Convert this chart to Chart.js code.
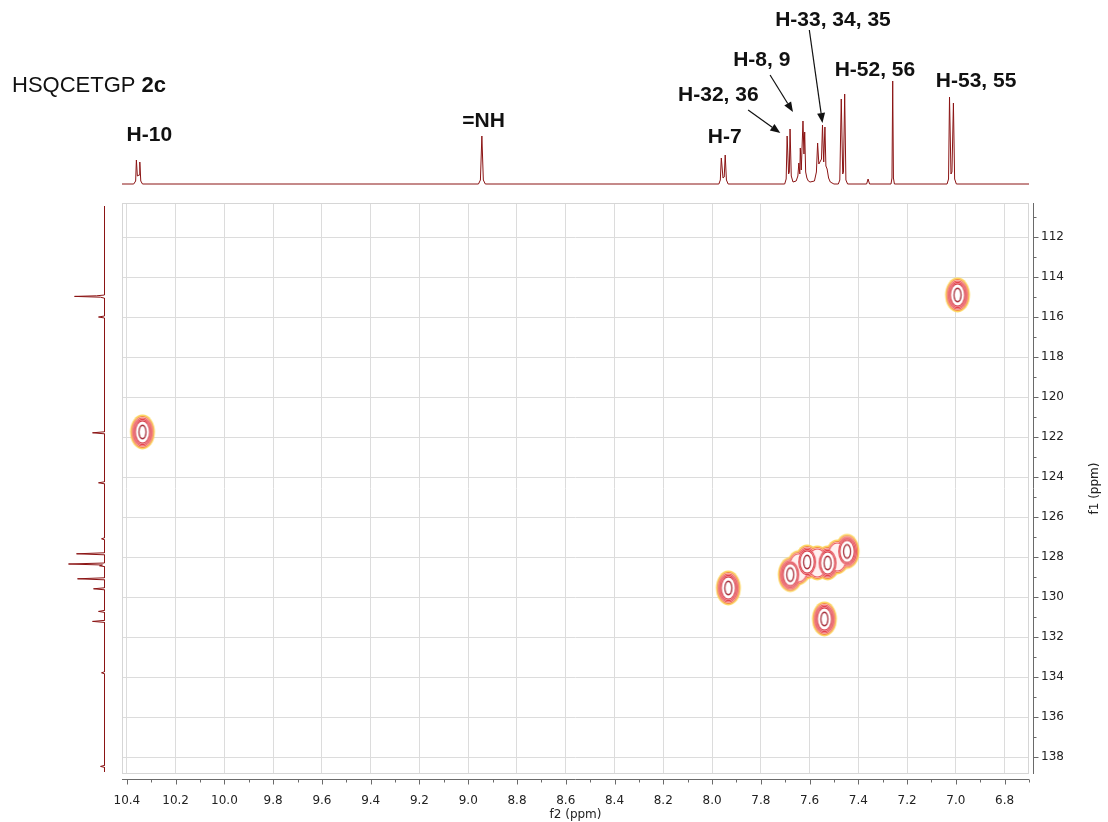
<!DOCTYPE html>
<html>

<head>
    <title>HSQCETGP 2c</title>
    <script src="https://cdn.jsdelivr.net/npm/chart.js"></script>
    <style>
        body { margin: 0; background: #fff; }
        #wrap { position: relative; width: 1108px; height: 822px; }
        #wrap canvas { position: absolute; left: 0; top: 0; }
    </style>
</head>

<body>
    <div id="wrap">
        <canvas id="main" width="1108" height="822"></canvas>
        <canvas id="top" width="1108" height="822"></canvas>
        <canvas id="side" width="1108" height="822"></canvas>
    </div>
    <script>
        // axis ticks
        var f2Ticks = [10.4, 10.2, 10.0, 9.8, 9.6, 9.4, 9.2, 9.0, 8.8, 8.6, 8.4, 8.2, 8.0, 7.8, 7.6, 7.4, 7.2, 7.0, 6.8];
        var f1Ticks = [112, 114, 116, 118, 120, 122, 124, 126, 128, 130, 132, 134, 136, 138];

        // 1H trace on top (ppm, intensity)
        var topPpm = [10.42, 10.372, 10.364, 10.361, 10.357, 10.350, 10.347, 10.343, 10.336,
            8.958, 8.950, 8.944, 8.938, 8.930,
            7.972, 7.966, 7.962, 7.955, 7.950, 7.946, 7.941, 7.934,
            7.702, 7.696, 7.692, 7.686, 7.683, 7.680, 7.675, 7.668,
            7.655, 7.648, 7.644, 7.640, 7.638, 7.634, 7.627, 7.623, 7.620, 7.616, 7.611, 7.605, 7.598,
            7.580, 7.572, 7.567, 7.562, 7.551, 7.547, 7.542, 7.537, 7.533, 7.528, 7.522, 7.515, 7.500,
            7.482, 7.476, 7.470, 7.464, 7.461, 7.456, 7.451, 7.444,
            7.366, 7.360, 7.354,
            7.266, 7.262, 7.259, 7.256, 7.252,
            7.036, 7.030, 7.026, 7.020, 7.016, 7.010, 7.005, 6.998,
            6.70];
        var topInt = [0, 0, 3, 24, 8, 9, 22, 3, 0,
            0, 4, 48, 4, 0,
            0, 4, 26, 6, 7, 29, 4, 0,
            0, 5, 48, 10, 12, 55, 8, 2,
            3, 8, 21, 10, 36, 14, 63, 30, 52, 12, 6, 3, 2,
            3, 12, 41, 20, 25, 59, 22, 57, 18, 15, 6, 2, 0,
            0, 4, 85, 10, 12, 90, 4, 0,
            0, 5, 0,
            0, 6, 103, 6, 0,
            0, 5, 87, 10, 12, 81, 5, 0,
            0];

        // 13C trace on the left (ppm, intensity)
        var sideF1 = [110.45, 114.90, 114.94, 114.97, 115.01, 115.06,
            115.95, 116.00, 116.05,
            121.74, 121.79, 121.84,
            124.24, 124.29, 124.34,
            127.04, 127.09, 127.14,
            127.79, 127.84, 127.89,
            128.30, 128.35, 128.40, 128.44, 128.48,
            129.04, 129.09, 129.14,
            129.54, 129.59, 129.64,
            130.67, 130.72, 130.77,
            131.17, 131.22, 131.27,
            133.74, 133.79, 133.84,
            138.42, 138.47, 138.52, 138.75];
        var sideInt = [0, 0, 8, 30, 4, 0,
            0, 6, 0,
            0, 12, 0,
            0, 6, 0,
            0, 3, 0,
            0, 28, 0,
            0, 36, 2, 5, 0,
            0, 27, 0,
            0, 11, 0,
            0, 6, 0,
            0, 12, 0,
            0, 3, 0,
            0, 4, 0, 0];

        // cross peaks and contour ridge points (f2, f1, number of contour levels reached)
        var crossF2 = [10.336, 6.993, 7.933, 7.679, 7.645, 7.610, 7.568, 7.526, 7.486, 7.446, 7.539];
        var crossF1 = [121.75, 114.90, 129.55, 128.88, 128.54, 128.25, 128.30, 128.30, 128.00, 127.72, 131.10];
        var crossLevels = [6, 6, 6, 6, 3, 6, 3, 6, 3, 6, 6];

        // peak labels on the 1H trace
        var labelText = ['H-10', '=NH', 'H-7', 'H-32, 36', 'H-8, 9', 'H-33, 34, 35', 'H-52, 56', 'H-53, 55'];
        var labelPpm = [10.308, 8.937, 7.948, 7.974, 7.796, 7.504, 7.332, 6.917];
        var labelInt = [49, 63, 46.5, 88.5, 124, 163.5, 113.5, 102.5];

        // arrows: [ppm, int] start -> end
        var arrowFrom = [[7.852, 74], [7.762, 109], [7.601, 154]];
        var arrowTo = [[7.720, 51], [7.668, 72], [7.547, 61]];

        var traceColor = '#8b1414';
        var tickFont = { family: 'DejaVu Sans', size: 12 };

        function ellipse(rx, ry, color) {
            var c = document.createElement('canvas');
            c.width = Math.ceil(rx) * 2 + 2;
            c.height = Math.ceil(ry) * 2 + 2;
            var g = c.getContext('2d');
            g.fillStyle = color;
            g.beginPath();
            g.ellipse(c.width / 2, c.height / 2, rx, ry, 0, 0, Math.PI * 2);
            g.fill();
            return c;
        }

        // contour rings, outer to inner: rx, ry, line colour, ring width, inside colour
        var levels = [
            [12.4, 17.4, '#fcd660', 1.5, '#fdeee0'],
            [11.2, 16.0, '#f38a40', 1.1, '#fff0f0'],
            [10.0, 14.6, '#ec4d53', 1.1, '#fff0f0'],
            [8.9, 13.2, '#e5434c', 1.1, '#fff3f3'],
            [7.8, 11.8, '#d83c47', 1.2, '#ffffff'],
            [4.2, 7.4, '#a8323d', 1.3, '#ffffff']
        ];

        var contourSets = [];
        levels.forEach(function (lv, i) {
            var pts = [];
            crossF2.forEach(function (v, j) {
                if (crossLevels[j] > i) pts.push({ x: v, y: crossF1[j] });
            });
            contourSets.push({ data: pts, pointStyle: ellipse(lv[0], lv[1], lv[2]), pointRadius: 3, order: 100 - 2 * i });
            contourSets.push({ data: pts, pointStyle: ellipse(lv[0] - lv[3], lv[1] - lv[3], lv[4]), pointRadius: 3, order: 99 - 2 * i });
        });

        var axisDeco = {
            id: 'axisDeco',
            afterDraw: function (chart) {
                var ctx = chart.ctx, a = chart.chartArea, x = chart.scales.x, y = chart.scales.y;
                ctx.save();
                ctx.strokeStyle = '#d6d6d6';
                ctx.lineWidth = 1;
                ctx.strokeRect(a.left + 0.5, a.top + 0.5, a.right - a.left - 1, a.bottom - a.top - 1);
                ctx.strokeStyle = '#6a6a6a';
                var ax = Math.round(a.right) + 4.5, ay = Math.round(a.bottom) + 5.5;
                ctx.beginPath();
                ctx.moveTo(ax, a.top); ctx.lineTo(ax, a.bottom);
                ctx.moveTo(a.left, ay); ctx.lineTo(a.right, ay);
                for (var v = 111; v <= 138; v++) {
                    var py = Math.round(y.getPixelForValue(v)) + 0.5;
                    ctx.moveTo(ax, py); ctx.lineTo(ax + (v % 2 ? 3 : 5), py);
                }
                for (var k = 67; k <= 104; k++) {
                    var px = Math.round(x.getPixelForValue(k / 10)) + 0.5;
                    ctx.moveTo(px, ay); ctx.lineTo(px, ay + (k % 2 ? 3 : 5));
                }
                ctx.stroke();
                ctx.fillStyle = '#222';
                ctx.font = '12px "DejaVu Sans"';
                ctx.translate(1095, (a.top + a.bottom) / 2);
                ctx.rotate(-Math.PI / 2);
                ctx.textAlign = 'center';
                ctx.textBaseline = 'middle';
                ctx.fillText('f1 (ppm)', 0, 0);
                ctx.restore();
            }
        };

        new Chart(document.getElementById('main'), {
            type: 'scatter',
            data: { datasets: contourSets },
            options: {
                responsive: false,
                animation: false,
                layout: { padding: { left: 122, top: 203, right: 0, bottom: 0 } },
                plugins: { legend: { display: false }, tooltip: { enabled: false } },
                scales: {
                    x: {
                        position: 'bottom',
                        min: 6.70,
                        max: 10.42,
                        reverse: true,
                        afterBuildTicks: function (s) { s.ticks = f2Ticks.map(function (v) { return { value: v }; }); },
                        afterFit: function (s) { s.height = 48; },
                        grid: { color: '#dcdcdc', drawTicks: false },
                        border: { display: false },
                        ticks: { padding: 20, color: '#222', font: tickFont, maxRotation: 0, autoSkip: false,
                            callback: function (v) { return v.toFixed(1); } },
                        title: { display: true, text: 'f2 (ppm)', color: '#222', font: tickFont, padding: 0 }
                    },
                    y: {
                        position: 'right',
                        min: 110.3,
                        max: 138.85,
                        reverse: true,
                        afterBuildTicks: function (s) { s.ticks = f1Ticks.map(function (v) { return { value: v }; }); },
                        afterFit: function (s) { s.width = 79; },
                        grid: { color: '#dcdcdc', drawTicks: false },
                        border: { display: false },
                        ticks: { padding: 12, color: '#222', font: tickFont, autoSkip: false }
                    }
                }
            },
            plugins: [axisDeco]
        });

        var topDeco = {
            id: 'topDeco',
            afterDraw: function (chart) {
                var ctx = chart.ctx, x = chart.scales.x, y = chart.scales.y;
                ctx.save();
                ctx.fillStyle = '#111';
                ctx.textBaseline = 'middle';
                ctx.font = '22px "Liberation Sans"';
                ctx.textAlign = 'left';
                var pre = 'HSQCETGP ';
                ctx.fillText(pre, 12, 86);
                var w = ctx.measureText(pre).width;
                ctx.font = 'bold 22px "Liberation Sans"';
                ctx.fillText('2c', 12 + w, 86);
                ctx.font = 'bold 21px "Liberation Sans"';
                ctx.textAlign = 'center';
                labelText.forEach(function (t, i) {
                    ctx.fillText(t, x.getPixelForValue(labelPpm[i]), y.getPixelForValue(labelInt[i]));
                });
                ctx.strokeStyle = '#111';
                ctx.lineWidth = 1.2;
                arrowFrom.forEach(function (f, i) {
                    var x0 = x.getPixelForValue(f[0]), y0 = y.getPixelForValue(f[1]);
                    var x1 = x.getPixelForValue(arrowTo[i][0]), y1 = y.getPixelForValue(arrowTo[i][1]);
                    var ang = Math.atan2(y1 - y0, x1 - x0);
                    var hl = 10, hw = 4;
                    var bx = x1 - hl * Math.cos(ang), by = y1 - hl * Math.sin(ang);
                    ctx.beginPath();
                    ctx.moveTo(x0, y0); ctx.lineTo(bx, by);
                    ctx.stroke();
                    ctx.beginPath();
                    ctx.moveTo(x1, y1);
                    ctx.lineTo(bx + hw * Math.sin(ang), by - hw * Math.cos(ang));
                    ctx.lineTo(bx - hw * Math.sin(ang), by + hw * Math.cos(ang));
                    ctx.closePath();
                    ctx.fill();
                });
                ctx.restore();
            }
        };

        new Chart(document.getElementById('top'), {
            type: 'scatter',
            data: {
                datasets: [{
                    data: topPpm.map(function (v, i) { return { x: v, y: topInt[i] }; }),
                    showLine: true,
                    borderColor: traceColor,
                    borderWidth: 1,
                    pointRadius: 0,
                    clip: false
                }]
            },
            options: {
                responsive: false,
                animation: false,
                layout: { padding: { left: 122, right: 79, top: 0, bottom: 638 } },
                plugins: { legend: { display: false }, tooltip: { enabled: false } },
                scales: {
                    x: { display: false, min: 6.70, max: 10.42, reverse: true },
                    y: { display: false, min: 0, max: 184 }
                }
            },
            plugins: [topDeco]
        });

        new Chart(document.getElementById('side'), {
            type: 'scatter',
            data: {
                datasets: [{
                    data: sideF1.map(function (v, i) { return { x: sideInt[i], y: v }; }),
                    showLine: true,
                    borderColor: traceColor,
                    borderWidth: 1,
                    pointRadius: 0,
                    clip: false
                }]
            },
            options: {
                responsive: false,
                animation: false,
                layout: { padding: { left: 62, right: 1003.5, top: 203, bottom: 48 } },
                plugins: { legend: { display: false }, tooltip: { enabled: false } },
                scales: {
                    x: { display: false, min: 0, max: 42.5, reverse: true },
                    y: { display: false, min: 110.3, max: 138.85, reverse: true }
                }
            }
        });
    </script>
</body>

</html>
